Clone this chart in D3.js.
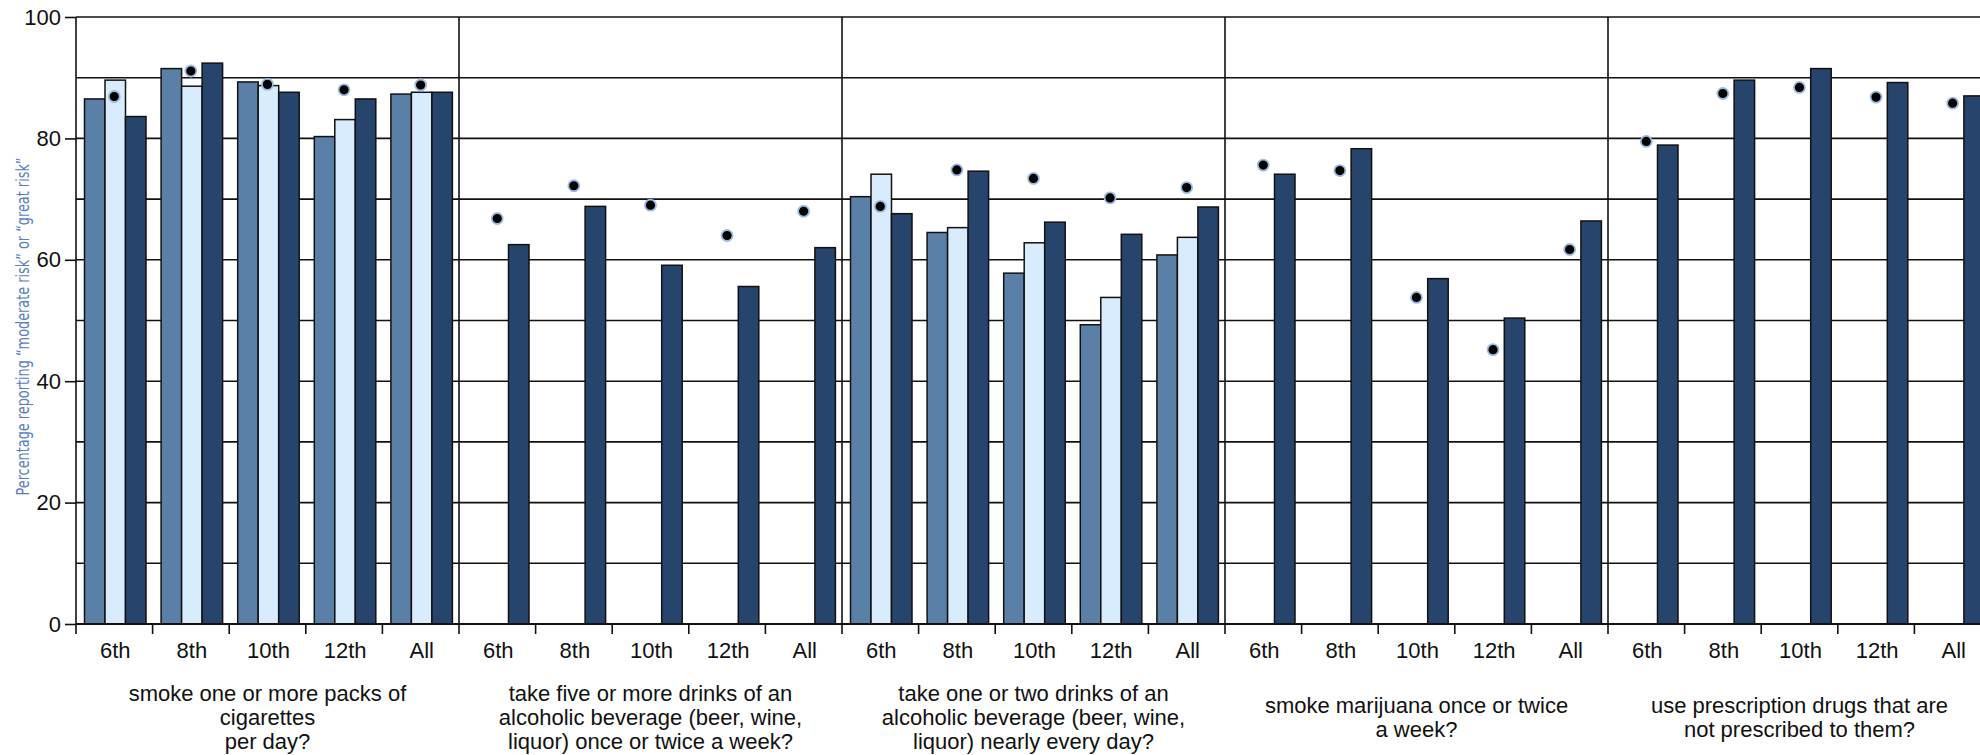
<!DOCTYPE html>
<html>
<head>
<meta charset="utf-8">
<script src="https://cdn.jsdelivr.net/npm/d3@7"></script>
<style>
  html, body { margin: 0; padding: 0; background: #fff; }
  svg { display: block; }
</style>
</head>
<body>
<svg id="chart" width="1980" height="755"></svg>
<script>
// ---------- data ----------
const grades = ["6th", "8th", "10th", "12th", "All"];
const questionLabels = [
  ["smoke one or more packs of", "cigarettes", "per day?"],
  ["take five or more drinks of an", "alcoholic beverage (beer, wine,", "liquor) once or twice a week?"],
  ["take one or two drinks of an", "alcoholic beverage (beer, wine,", "liquor) nearly every day?"],
  ["smoke marijuana once or twice", "a week?"],
  ["use prescription drugs that are", "not prescribed to them?"]
];
// series values per question (null = not shown)
const seriesA = [
  [86.5, 91.5, 89.3, 80.3, 87.3],
  null,
  [70.4, 64.5, 57.8, 49.3, 60.8],
  null,
  null
];
const seriesB = [
  [89.6, 88.6, 88.7, 83.1, 87.6],
  null,
  [74.1, 65.3, 62.8, 53.8, 63.7],
  null,
  null
];
const seriesC = [
  [83.6, 92.4, 87.6, 86.5, 87.6],
  [62.5, 68.8, 59.1, 55.6, 62.0],
  [67.6, 74.6, 66.2, 64.2, 68.7],
  [74.1, 78.3, 56.9, 50.4, 66.4],
  [78.9, 89.6, 91.5, 89.2, 87.0]
];
const dotValues = [
  [86.9, 91.1, 88.9, 88.0, 88.8],
  [66.8, 72.2, 69.0, 64.0, 68.0],
  [68.8, 74.8, 73.4, 70.2, 71.9],
  [75.6, 74.7, 53.8, 45.2, 61.7],
  [79.5, 87.4, 88.4, 86.8, 85.8]
];
const yTickValues = [0, 20, 40, 60, 80, 100];
const yGridValues = [10, 20, 30, 40, 50, 60, 70, 80, 90, 100];
const yLabel = "Percentage reporting \u201Cmoderate risk\u201D or \u201Cgreat risk\u201D";

// ---------- layout ----------
const svg = d3.select("#chart");
const mLeft = 76, mTop = 17, mBottom = 624, panelW = 383;
const nQ = questionLabels.length;
const colors = ["#5b80a8", "#d9ecfd", "#27446d"];
const seriesList = [seriesA, seriesB, seriesC];

const y = d3.scaleLinear().domain([0, 100]).range([mBottom, mTop]);
const xPanel = d3.scaleBand().domain(d3.range(nQ)).range([mLeft, mLeft + panelW * nQ]).padding(0);
const xGroup = d3.scaleBand().domain(grades).range([0, panelW]).padding(0);
const xSeries = d3.scaleBand().domain([0, 1, 2]).range([8.5, 70]).padding(0);

const fontMain = "'Liberation Sans', Arial, sans-serif";

// gridlines
svg.append("g").selectAll("line").data(yGridValues).join("line")
  .attr("x1", mLeft).attr("x2", 1980)
  .attr("y1", d => y(d)).attr("y2", d => y(d))
  .attr("stroke", "#111").attr("stroke-width", 1.6);

// panel separators
svg.append("g").selectAll("line").data(d3.range(1, nQ)).join("line")
  .attr("x1", d => xPanel(d)).attr("x2", d => xPanel(d))
  .attr("y1", mTop).attr("y2", mBottom)
  .attr("stroke", "#111").attr("stroke-width", 1.6);

// bars
const barData = [];
seriesList.forEach((s, si) => {
  s.forEach((vals, qi) => {
    if (!vals) return;
    vals.forEach((v, gi) => barData.push({ si, qi, g: grades[gi], v }));
  });
});
svg.append("g").selectAll("rect").data(barData).join("rect")
  .attr("x", d => xPanel(d.qi) + xGroup(d.g) + xSeries(d.si))
  .attr("width", xSeries.bandwidth())
  .attr("y", d => y(d.v))
  .attr("height", d => y(0) - y(d.v))
  .attr("fill", d => colors[d.si])
  .attr("stroke", "#111").attr("stroke-width", 1.5);

// dots
const dotData = [];
dotValues.forEach((vals, qi) => vals.forEach((v, gi) => dotData.push({ qi, g: grades[gi], v })));
svg.append("g").selectAll("circle").data(dotData).join("circle")
  .attr("cx", d => xPanel(d.qi) + xGroup(d.g) + xSeries(1) + xSeries.bandwidth() / 2 - 1)
  .attr("cy", d => y(d.v))
  .attr("r", 5.5)
  .attr("fill", "#000")
  .attr("stroke", "#9dbbe0").attr("stroke-width", 1.8);

// y axis
const yAxis = d3.axisLeft(y).tickValues(yTickValues).tickSize(11).tickPadding(4).tickFormat(d3.format("d"));
const gy = svg.append("g").attr("transform", `translate(${mLeft},0)`).call(yAxis);
gy.select(".domain").attr("stroke", "#111").attr("stroke-width", 1.6).attr("d", `M0,${mTop}V${mBottom}`);
gy.selectAll(".tick line").attr("stroke", "#111").attr("stroke-width", 1.6);
gy.selectAll(".tick text").attr("font-family", fontMain).attr("font-size", 22).attr("fill", "#111");

// x axis: baseline + ticks at group boundaries
const groupStarts = [];
for (let q = 0; q < nQ; q++) grades.forEach(g => groupStarts.push(xPanel(q) + xGroup(g)));
svg.append("line").attr("x1", mLeft).attr("x2", 1980).attr("y1", y(0)).attr("y2", y(0))
  .attr("stroke", "#111").attr("stroke-width", 2);
svg.append("g").selectAll("line").data(groupStarts).join("line")
  .attr("x1", d => d).attr("x2", d => d)
  .attr("y1", y(0)).attr("y2", y(0) + 10)
  .attr("stroke", "#111").attr("stroke-width", 1.6);

// grade labels
const gradeLabelData = [];
for (let q = 0; q < nQ; q++) grades.forEach(g => gradeLabelData.push({ q, g }));
svg.append("g").selectAll("text").data(gradeLabelData).join("text")
  .attr("x", d => xPanel(d.q) + xGroup(d.g) + xGroup.bandwidth() / 2 + 1)
  .attr("y", 658)
  .attr("text-anchor", "middle")
  .attr("font-family", fontMain).attr("font-size", 22).attr("fill", "#111")
  .text(d => d.g);

// question labels
const qg = svg.append("g");
questionLabels.forEach((lines, qi) => {
  const cx = xPanel(qi) + panelW / 2;
  const lineH = 24;
  const midY = 725;
  const startY = midY - (lines.length - 1) * lineH / 2;
  const t = qg.append("text").attr("text-anchor", "middle")
    .attr("font-family", fontMain).attr("font-size", 22).attr("fill", "#111");
  lines.forEach((ln, i) => {
    t.append("tspan").attr("x", cx).attr("y", startY + i * lineH).text(ln);
  });
});

// y label
svg.append("text")
  .attr("transform", `translate(29,${(mTop + mBottom) / 2 + 6}) rotate(-90)`)
  .attr("text-anchor", "middle")
  .attr("font-family", "'Liberation Sans Narrow', 'DejaVu Sans Condensed', sans-serif")
  .attr("font-size", 18)
  .attr("fill", "#5a7dc4")
  .attr("textLength", 338).attr("lengthAdjust", "spacingAndGlyphs")
  .text(yLabel);
</script>
</body>
</html>
